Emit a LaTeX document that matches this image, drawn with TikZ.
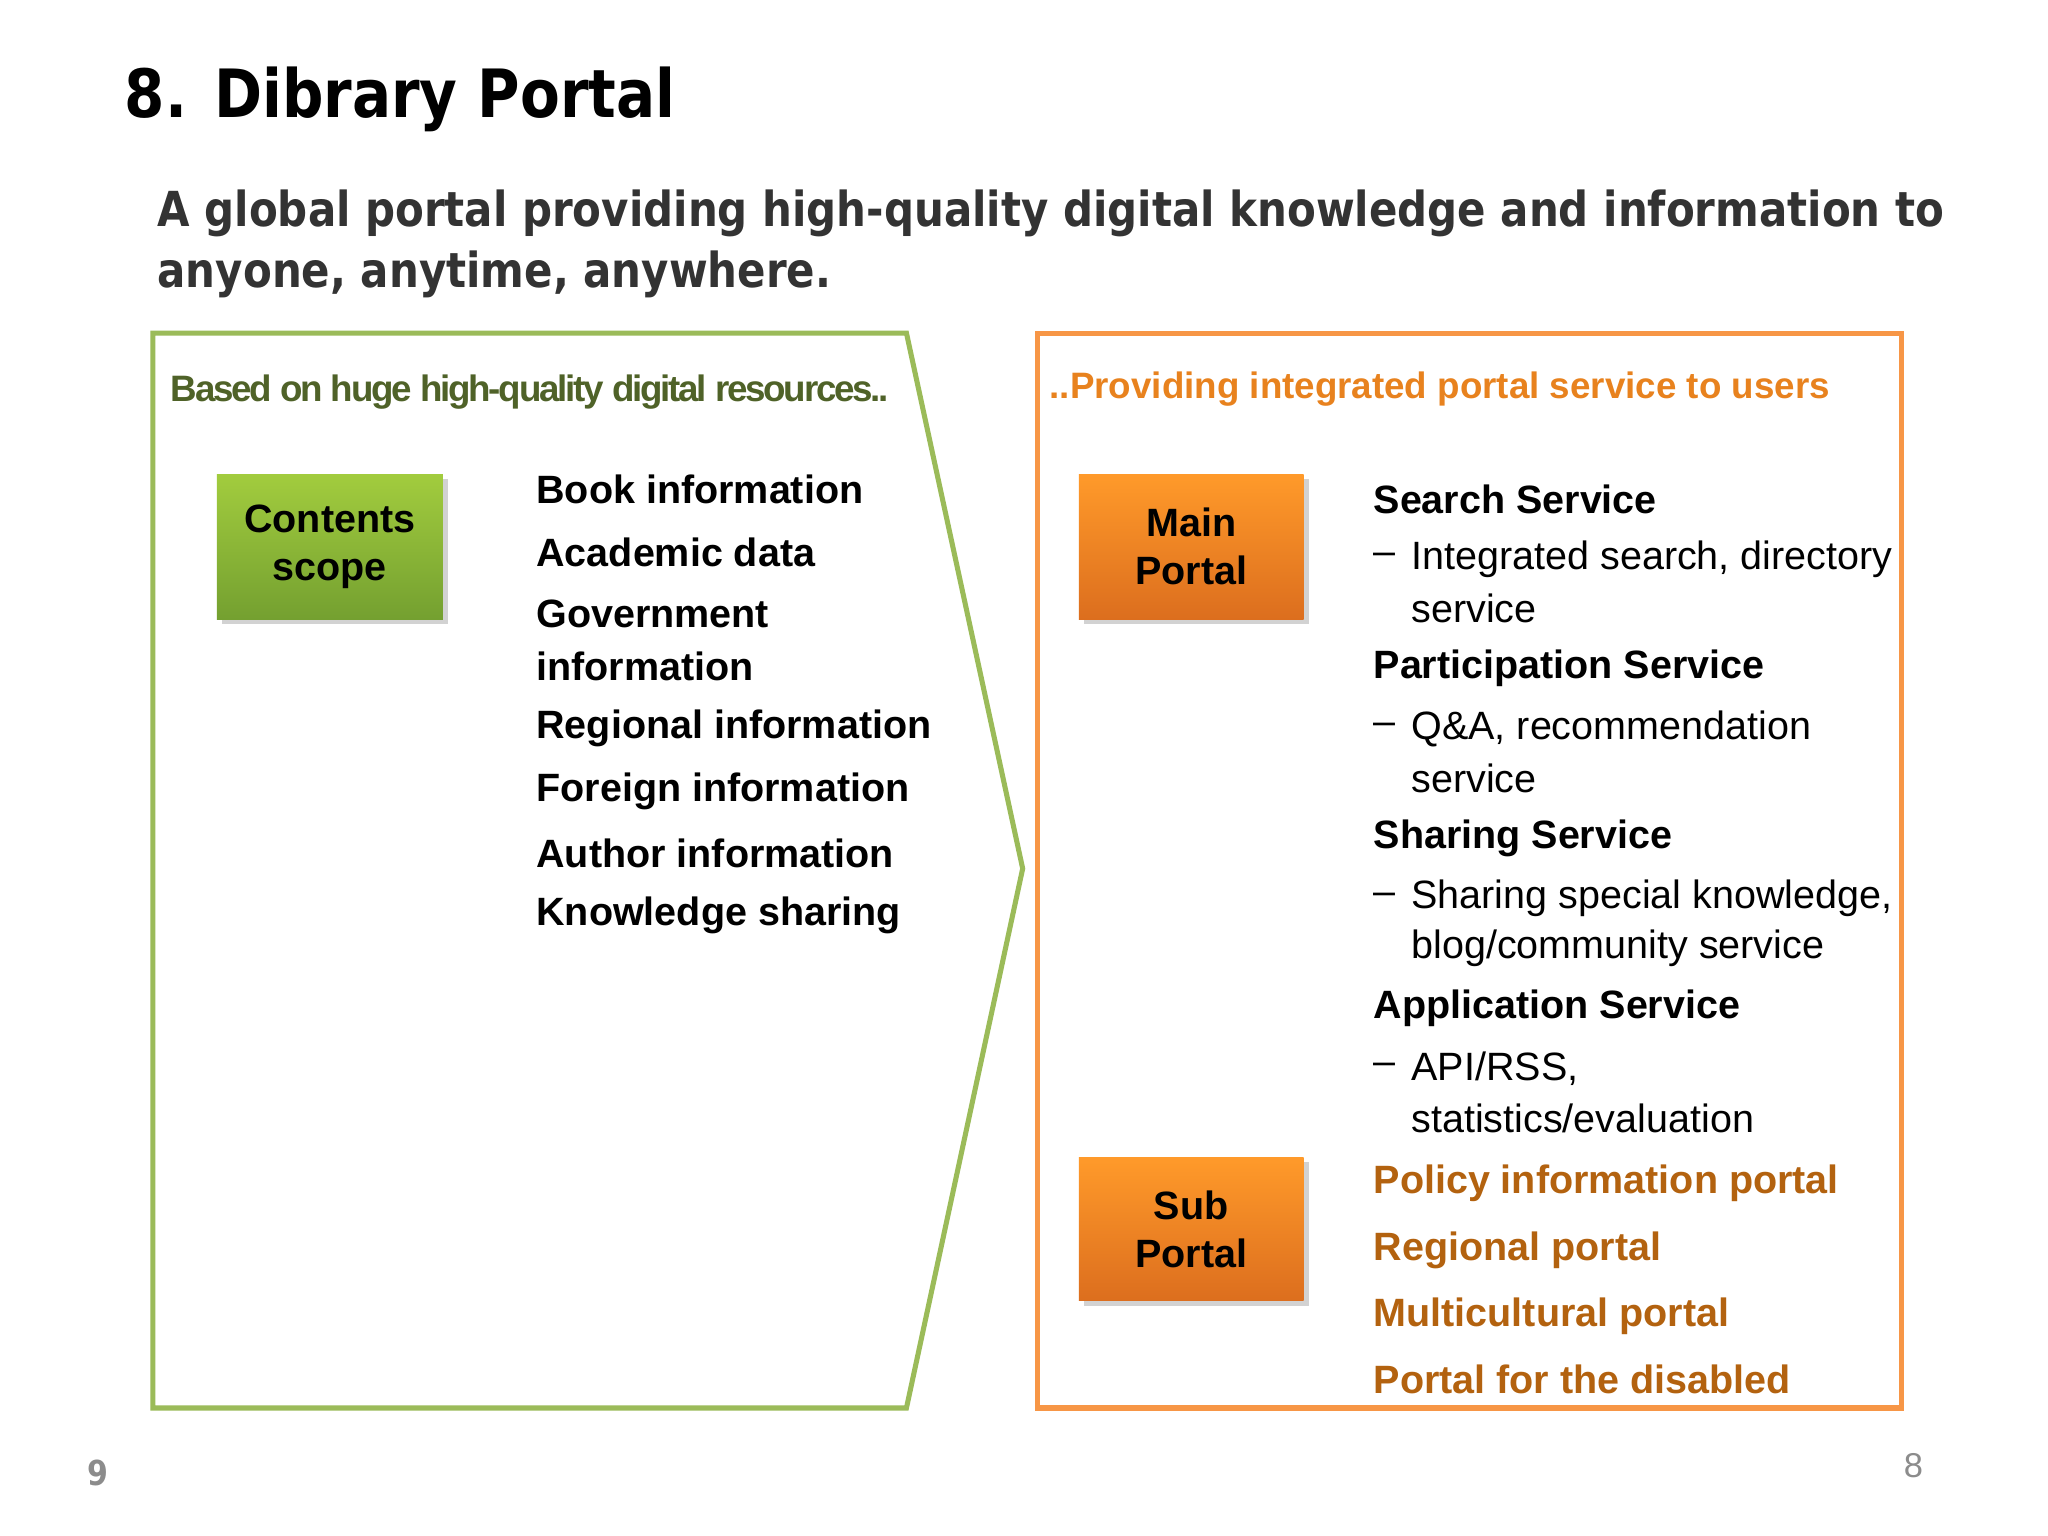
\documentclass[tikz,border=0pt]{standalone}
\usepackage{fontspec}
\setmainfont{Liberation Sans}
\newfontfamily\djfont[FakeStretch=0.87]{DejaVu Sans}
\usetikzlibrary{shadows}
\definecolor{gline}{HTML}{9BBB59}
\definecolor{oline}{HTML}{F79646}
\definecolor{ghead}{HTML}{4F6228}
\definecolor{ohead}{HTML}{E8821E}
\definecolor{brn}{HTML}{B3620F}
\definecolor{gtop}{HTML}{A2CC3E}
\definecolor{gbot}{HTML}{74A030}
\definecolor{otop}{HTML}{FF9A2A}
\definecolor{obot}{HTML}{DC6E1E}
\begin{document}
\begin{tikzpicture}[x=0.01cm,y=-0.01cm,
  body/.style={anchor=west,inner sep=0pt,font=\fontsize{8.6}{10}\selectfont\bfseries},
  sub/.style={anchor=west,inner sep=0pt,font=\fontsize{8.6}{10}\selectfont},
  gbox/.style={draw=none,top color=gtop,bottom color=gbot,inner sep=0pt,align=center,font=\fontsize{8.6}{10.5}\selectfont\bfseries,drop shadow={opacity=0.35,shadow xshift=0.4mm,shadow yshift=-0.4mm}},
  obox/.style={draw=none,top color=otop,bottom color=obot,inner sep=0pt,align=center,font=\fontsize{8.6}{10.5}\selectfont\bfseries,drop shadow={opacity=0.35,shadow xshift=0.4mm,shadow yshift=-0.4mm}}]
\useasboundingbox (0,0) rectangle (1568,1176);
\fill[white] (0,0) rectangle (1568,1176);
\node[anchor=west,inner sep=0pt,font=\djfont\fontsize{14.5}{18}\selectfont\bfseries] (title) at (95,76) {8. Dibrary Portal};
\node[anchor=west,inner sep=0pt,font=\djfont\fontsize{10.5}{13}\selectfont\bfseries,text=black!80] (s1) at (120,163) {A global portal providing high-quality digital knowledge and information to};
\node[anchor=west,inner sep=0pt,font=\djfont\fontsize{10.5}{13}\selectfont\bfseries,text=black!80] (s2) at (120,210) {anyone, anytime, anywhere.};
\draw[gline,line width=1.1pt] (117,255) -- (694,255) -- (783,665) -- (694,1078) -- (117,1078) -- cycle;
\draw[oline,line width=1.1pt] (794,255) rectangle (1456,1078);
\node[anchor=west,inner sep=0pt,text=ghead,font=\fontsize{8}{10}\selectfont\bfseries\addfontfeatures{LetterSpace=-6}] (gh) at (130,300) {Based on huge high-quality digital resources..};
\node[anchor=west,inner sep=0pt,text=ohead,font=\fontsize{8}{10}\selectfont\bfseries] (oh) at (803,298) {..Providing integrated portal service to users};
\node[gbox,minimum width=1.73cm,minimum height=1.11cm] (cs) at (252.5,418.5) {Contents\\scope};
\node[obox,minimum width=1.72cm,minimum height=1.11cm] (mp) at (912,418.5) {Main\\Portal};
\node[obox,minimum width=1.72cm,minimum height=1.10cm] (sp) at (912,941) {Sub\\Portal};
\foreach \t/\y [count=\i] in {Book information/375,Academic data/423,Government/470,information/510,Regional information/558,Foreign information/606,Author information/653,Knowledge sharing/701}
  \node[body] (l\i) at (410,\y) {\t};
\node[body] (r1) at (1051,382) {Search Service};
\node[sub] (d1) at (1051,428) {–}; \node[sub] (r2) at (1080,428) {Integrated search, directory};
\node[sub] (r3) at (1080,466) {service};
\node[body] (r4) at (1051,512) {Participation Service};
\node[sub] (d2) at (1051,558) {–}; \node[sub] (r5) at (1080,558) {Q\&A, recommendation};
\node[sub] (r6) at (1080,596) {service};
\node[body] (r7) at (1051,642) {Sharing Service};
\node[sub] (d3) at (1051,688) {–}; \node[sub] (r8) at (1080,688) {Sharing special knowledge,};
\node[sub] (r9) at (1080,726) {blog/community service};
\node[body] (r10) at (1051,772) {Application Service};
\node[sub] (d4) at (1051,818) {–}; \node[sub] (r11) at (1080,818) {API/RSS,};
\node[sub] (r12) at (1080,856) {statistics/evaluation};
\foreach \t/\y [count=\i] in {Policy information portal/906,Regional portal/957,Multicultural portal/1008,Portal for the disabled/1056}
  \node[body,text=brn] (p\i) at (1051,\y) {\t};
\node[inner sep=0pt,text=black!45,font=\djfont\fontsize{7.5}{9}\selectfont\bfseries] (n9) at (75,1128) {9};
\node[inner sep=0pt,text=black!45,font=\fontsize{7.5}{9}\selectfont] (n8) at (1465,1122) {8};
\end{tikzpicture}
\end{document}
